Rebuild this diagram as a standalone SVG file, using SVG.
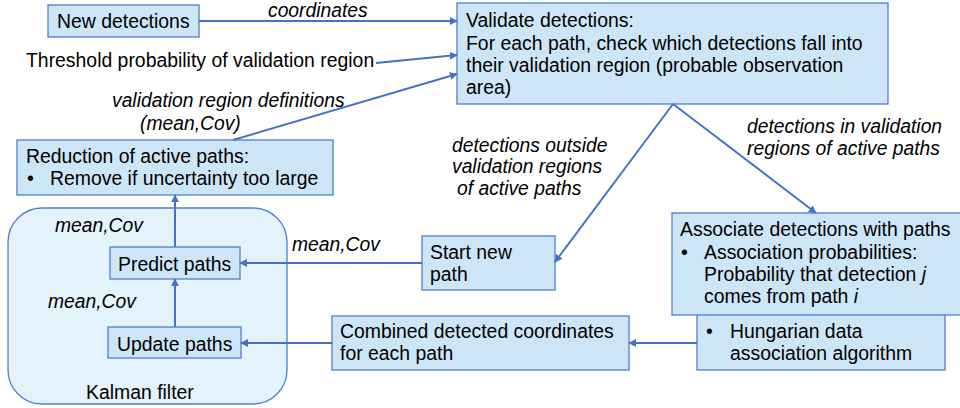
<svg xmlns="http://www.w3.org/2000/svg" width="960" height="408" viewBox="0 0 960 408">
  <style>
    .box { fill: #cde6f7; stroke: #4f7fd0; stroke-width: 1.3; }
    .group { fill: #e4f2fb; stroke: #4f7fd0; stroke-width: 1.3; }
    .t { font-family: "Liberation Sans", Arial, sans-serif; font-size: 19.4px; fill: #000; }
    .lbl { font-family: "Liberation Sans", Arial, sans-serif; font-size: 19.3px; font-style: italic; fill: #000; }
    .edge { fill: none; stroke: #4472c4; stroke-width: 2; }
  </style>
  <defs>
    <marker id="arrow" viewBox="0 0 10 10" refX="9" refY="5" markerWidth="4" markerHeight="4" orient="auto" markerUnits="strokeWidth">
      <path d="M0,0 L10,5 L0,10 z" fill="#4472c4"/>
    </marker>
  </defs>

  <!-- Kalman filter container -->
  <g id="kalman-filter">
    <rect class="group" x="8" y="208" width="279" height="196" rx="34" ry="34"/>
    <text class="t" x="86" y="399">Kalman filter</text>
  </g>

  <g id="new-detections">
    <rect class="box" x="48" y="5" width="151" height="32"/>
    <text class="t" x="57" y="28">New detections</text>
  </g>

  <g id="threshold">
    <text class="t" x="26" y="67">Threshold probability of validation region</text>
  </g>

  <g id="validate">
    <rect class="box" x="457" y="3" width="431" height="101"/>
    <text class="t" x="466" y="27">Validate detections:</text>
    <text class="t" x="466" y="50">For each path, check which detections fall into</text>
    <text class="t" x="466" y="72">their validation region (probable observation</text>
    <text class="t" x="466" y="94">area)</text>
  </g>

  <g id="reduction">
    <rect class="box" x="17" y="140" width="316" height="55"/>
    <text class="t" x="26" y="163">Reduction of active paths:</text>
    <text class="t" x="27" y="185">•</text>
    <text class="t" x="50" y="185">Remove if uncertainty too large</text>
  </g>

  <g id="predict">
    <rect class="box" x="110" y="247" width="130" height="32"/>
    <text class="t" x="118" y="271">Predict paths</text>
  </g>

  <g id="update">
    <rect class="box" x="108" y="327" width="133" height="31"/>
    <text class="t" x="117" y="351">Update paths</text>
  </g>

  <g id="start-new-path">
    <rect class="box" x="422" y="236" width="133" height="54"/>
    <text class="t" x="430" y="259">Start new</text>
    <text class="t" x="430" y="281">path</text>
  </g>

  <g id="combined">
    <rect class="box" x="332" y="316" width="297" height="54"/>
    <text class="t" x="340" y="338">Combined detected coordinates</text>
    <text class="t" x="340" y="360">for each path</text>
  </g>

  <g id="hungarian">
    <rect class="box" x="697" y="300" width="248" height="70"/>
    <text class="t" x="706" y="338">•</text>
    <text class="t" x="730" y="338">Hungarian data</text>
    <text class="t" x="730" y="360">association algorithm</text>
  </g>

  <g id="associate">
    <rect class="box" x="672" y="213" width="292" height="102"/>
    <text class="t" x="680" y="236">Associate detections with paths</text>
    <text class="t" x="681" y="259">•</text>
    <text class="t" x="704" y="259">Association probabilities:</text>
    <text class="t" x="704" y="281">Probability that detection <tspan font-style="italic">j</tspan></text>
    <text class="t" x="704" y="303">comes from path <tspan font-style="italic">i</tspan></text>
  </g>

  <!-- connectors and their labels -->
  <g id="connectors">
    <path class="edge" d="M199,21 L457,21" marker-end="url(#arrow)"/>
    <path class="edge" d="M376,63 L457,55" marker-end="url(#arrow)"/>
    <path class="edge" d="M233,140 L457,74" marker-end="url(#arrow)"/>
    <path class="edge" d="M673,104 L555,262" marker-end="url(#arrow)"/>
    <path class="edge" d="M673,104 L816,213" marker-end="url(#arrow)"/>
    <path class="edge" d="M422,263 L240,263" marker-end="url(#arrow)"/>
    <path class="edge" d="M697,343 L629,343" marker-end="url(#arrow)"/>
    <path class="edge" d="M332,343 L241,343" marker-end="url(#arrow)"/>
    <path class="edge" d="M175,327 L175,279" marker-end="url(#arrow)"/>
    <path class="edge" d="M175,247 L175,195" marker-end="url(#arrow)"/>

    <text class="lbl" x="268" y="17">coordinates</text>
    <text class="lbl" x="112" y="107">validation region definitions</text>
    <text class="lbl" x="140" y="130">(mean,Cov)</text>
    <text class="lbl" x="452" y="152">detections outside</text>
    <text class="lbl" x="452" y="173">validation regions</text>
    <text class="lbl" x="457" y="195">of active paths</text>
    <text class="lbl" x="747" y="133">detections in validation</text>
    <text class="lbl" x="747" y="155">regions of active paths</text>
    <text class="lbl" x="55" y="232">mean,Cov</text>
    <text class="lbl" x="48" y="308">mean,Cov</text>
    <text class="lbl" x="292" y="251">mean,Cov</text>
  </g>
</svg>
